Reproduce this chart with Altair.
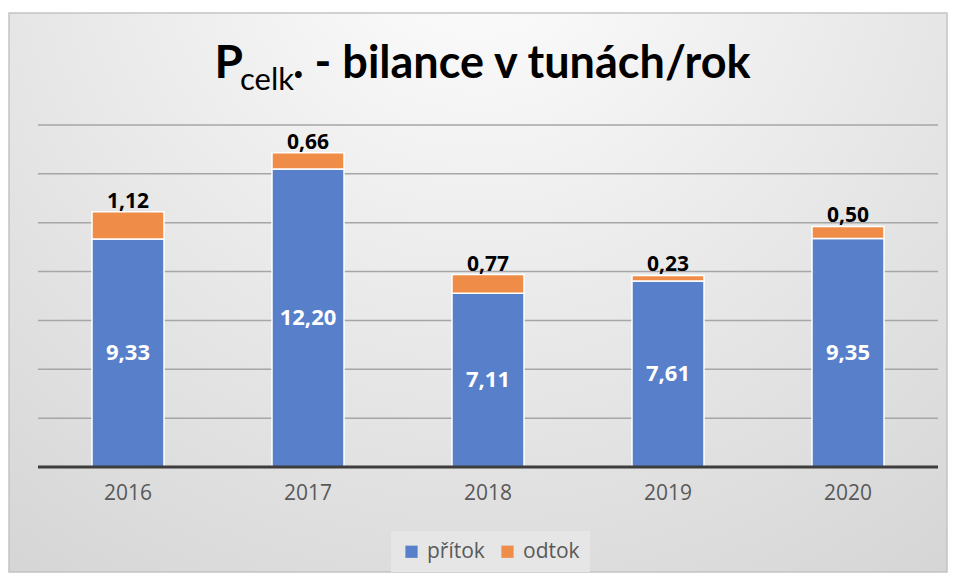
import altair as alt
import pandas as pd

# --- data ---
roky = ["2016", "2017", "2018", "2019", "2020"]
pritok = [9.33, 12.20, 7.11, 7.61, 9.35]
odtok = [1.12, 0.66, 0.77, 0.23, 0.50]
serie = ["přítok", "odtok"]
barvy = ["#5880CA", "#EF8C47"]
mrizka = [2, 4, 6, 8, 10, 12, 14]

df = pd.DataFrame({"rok": roky, "pritok": pritok, "odtok": odtok})
one = pd.DataFrame({"a": [0]})

W, H = 900, 342
PL, PT = 30, 117
PR = 940 - PL - W
PB = 565 - PT - H

FONT = "Open Sans"
TFONT = "Lato"

x_enc = alt.X(
    "rok:N",
    sort=roky,
    scale=alt.Scale(paddingInner=0.6, paddingOuter=0.3),
    axis=alt.Axis(title=None, labelAngle=0, labelFontSize=21, labelColor="#595959",
                  labelFont=FONT, labelPadding=15, ticks=False, domain=False, grid=False,
                  zindex=2),
)
y_scale = alt.Scale(domain=[0, 14], nice=False)

# background with radial gradient + frame
bg = alt.Chart(one).mark_rect(
    color=alt.Gradient(
        gradient="radial",
        stops=[alt.GradientStop(color="#ffffff", offset=0),
               alt.GradientStop(color="#eeeeee", offset=0.35),
               alt.GradientStop(color="#d1d1d1", offset=1)],
        x1=0.5, y1=0.1, r1=0, x2=0.5, y2=0.1, r2=0.95,
    ),
    stroke="#c4c4c4", strokeWidth=1.5,
).encode(x=alt.value(-PL + 1), x2=alt.value(W + PR - 1),
         y=alt.value(-PT + 5), y2=alt.value(H + PB - 1))

grid = alt.Chart(pd.DataFrame({"g": mrizka})).mark_rule(color="#a6a6a6", strokeWidth=1.5).encode(
    y=alt.Y("g:Q", scale=y_scale, axis=None)
)

bars = alt.Chart(df).transform_fold(
    ["pritok", "odtok"], as_=["klic", "hodnota"]
).transform_calculate(
    nazev="datum.klic == 'pritok' ? 'přítok' : 'odtok'",
    poradi="datum.klic == 'pritok' ? 0 : 1",
).mark_bar(stroke="white", strokeWidth=1.5).encode(
    x=x_enc,
    y=alt.Y("hodnota:Q", stack="zero", scale=y_scale, axis=None),
    color=alt.Color(
        "nazev:N",
        scale=alt.Scale(domain=serie, range=barvy),
        legend=alt.Legend(title=None, orient="none", legendX=353, legendY=406,
                          direction="horizontal",
                          labelFontSize=21, labelColor="#595959", labelFont=FONT,
                          symbolType="square", symbolSize=150, symbolStrokeWidth=0,
                          columnPadding=12, labelOffset=5,
                          fillColor="#e6e6e6", padding=10),
    ),
    order=alt.Order("poradi:Q"),
)

base_line = alt.Chart(one).mark_rule(color="#3d3d3d", strokeWidth=3).encode(
    y=alt.datum(0), x=alt.value(0), x2=alt.value(W)
)

inner = alt.Chart(df).transform_calculate(
    ly="datum.pritok / 2",
    lab="replace(format(datum.pritok, '.2f'), '.', ',')",
).mark_text(color="white", fontSize=22, fontWeight="bold", font=FONT).encode(
    x=alt.X("rok:N", sort=roky), y=alt.Y("ly:Q", scale=y_scale), text="lab:N"
)

top = alt.Chart(df).transform_calculate(
    tot="datum.pritok + datum.odtok",
    lab="replace(format(datum.odtok, '.2f'), '.', ',')",
).mark_text(color="black", fontSize=21, fontWeight="bold", font=FONT,
            baseline="alphabetic", dy=-4).encode(
    x=alt.X("rok:N", sort=roky), y=alt.Y("tot:Q", scale=y_scale), text="lab:N"
)

TX = 255
t_main = alt.Chart(one).mark_text(text=". - bilance v tunách/rok", font=TFONT, fontSize=45,
                                  fontWeight="bold", align="left", baseline="alphabetic",
                                  color="black").encode(x=alt.value(TX), y=alt.value(-47))
t_sub = alt.Chart(one).mark_text(text="celk", font=TFONT, fontSize=31,
                                 align="right", baseline="alphabetic",
                                 color="black").encode(x=alt.value(TX + 1), y=alt.value(-35))
t_p = alt.Chart(one).mark_text(text="P", font=TFONT, fontSize=46, fontWeight="bold",
                               align="right", baseline="alphabetic",
                               color="black").encode(x=alt.value(TX - 50), y=alt.value(-47))

chart = alt.layer(bg, grid, bars, base_line, inner, top, t_main, t_sub, t_p).properties(
    width=W, height=H,
    padding={"left": PL, "top": PT, "right": PR, "bottom": PB},
    autosize=alt.AutoSizeParams(type="none"),
    background="white",
).configure_view(stroke=None)

chart.save("out.html", embed_options={"renderer": "svg", "actions": False})
